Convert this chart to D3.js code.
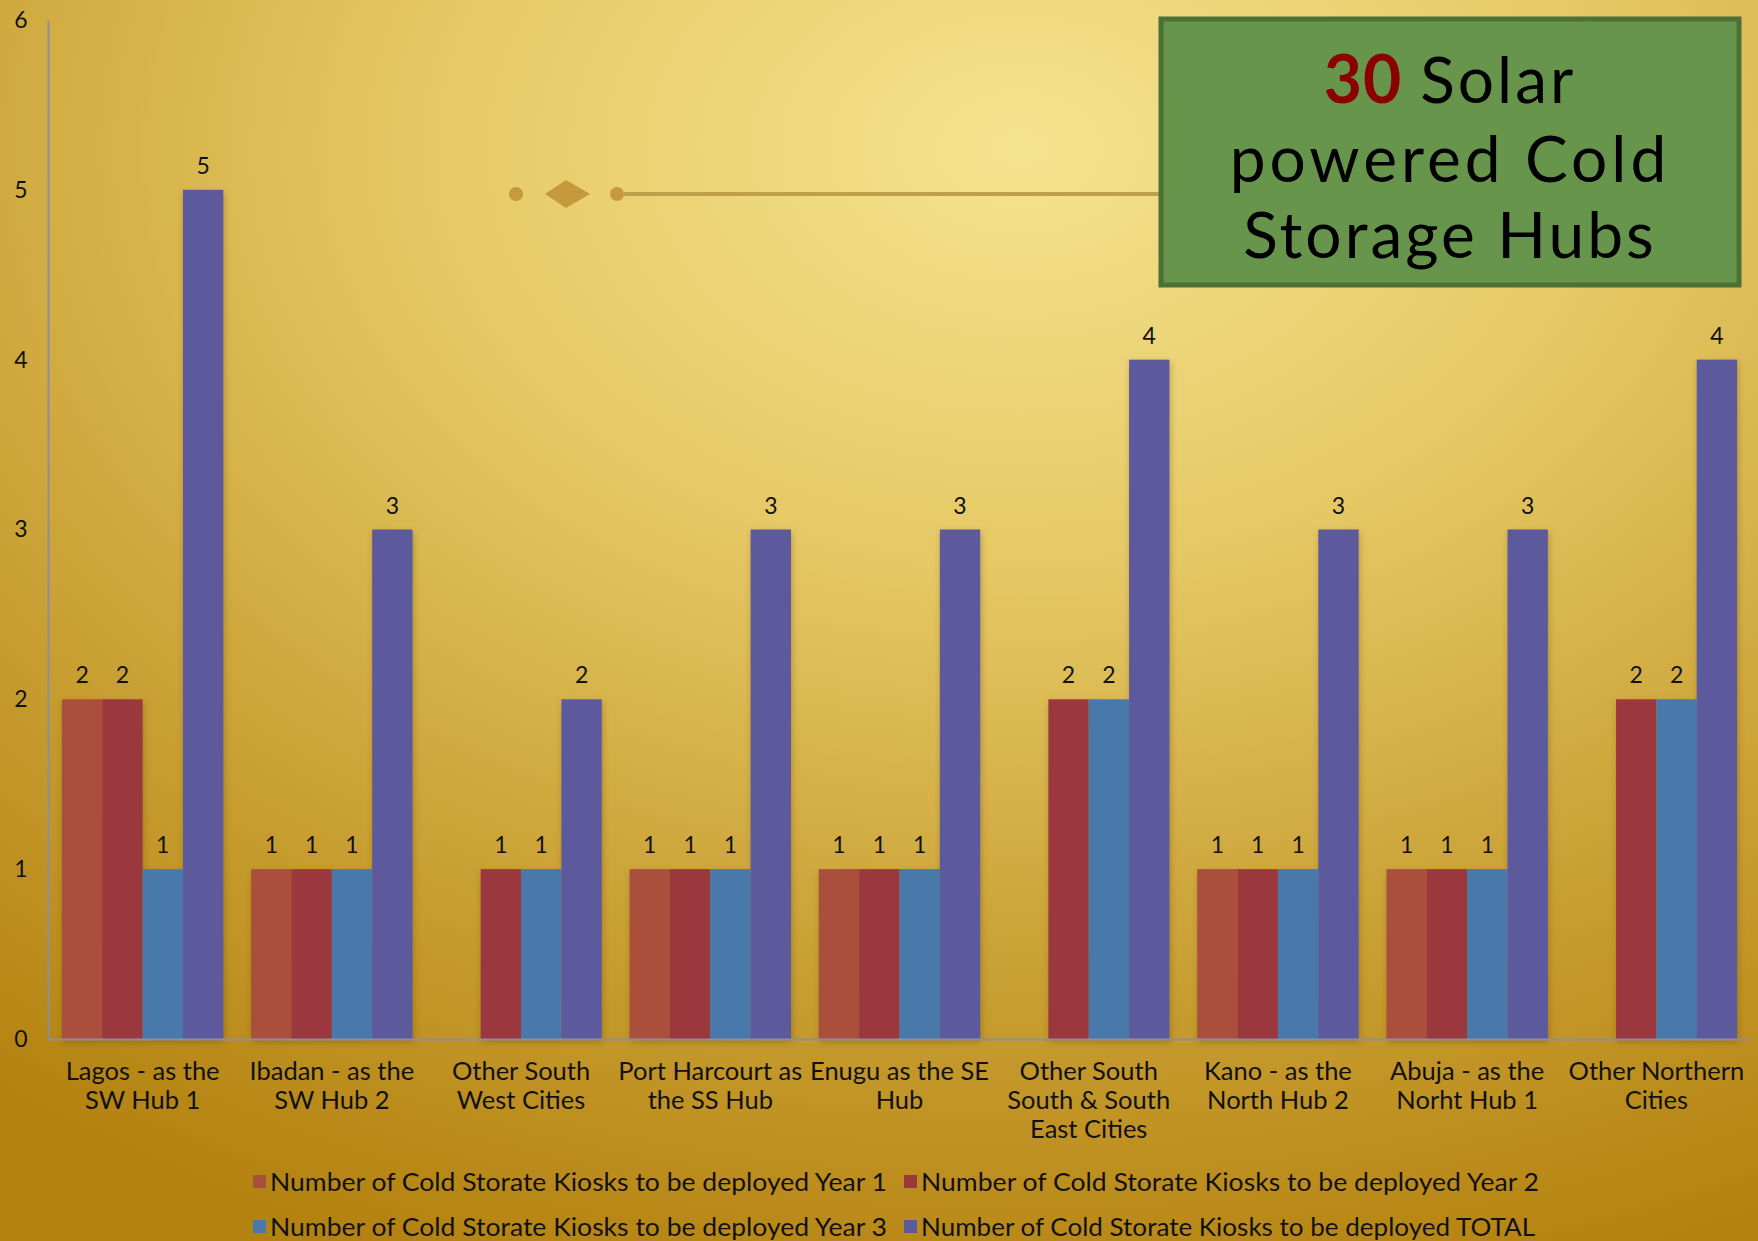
<!DOCTYPE html>
<html>
<head>
<meta charset="utf-8">
<script src="https://cdn.jsdelivr.net/npm/d3@7/dist/d3.min.js"></script>
<style>
  html, body { margin: 0; padding: 0; background: #c9a030; }
  svg { display: block; }
  text { font-family: Lato, "Noto Sans", sans-serif; }
</style>
</head>
<body>
<svg id="chart" width="1758" height="1241"></svg>
<script>
// ---- data ----
const categories = [
  "Lagos - as the\nSW Hub 1",
  "Ibadan - as the\nSW Hub 2",
  "Other South\nWest Cities",
  "Port Harcourt as\nthe SS Hub",
  "Enugu as the SE\nHub",
  "Other South\nSouth & South\nEast Cities",
  "Kano - as the\nNorth Hub 2",
  "Abuja - as the\nNorht Hub 1",
  "Other Northern\nCities"
];
const seriesNames = [
  "Number of Cold Storate Kiosks to be deployed Year 1",
  "Number of Cold Storate Kiosks to be deployed Year 2",
  "Number of Cold Storate Kiosks to be deployed Year 3",
  "Number of Cold Storate Kiosks to be deployed TOTAL"
];
const year1 = [2, 1, null, 1, 1, null, 1, 1, null];
const year2 = [2, 1, 1, 1, 1, 2, 1, 1, 2];
const year3 = [1, 1, 1, 1, 1, 2, 1, 1, 2];
const total = [5, 3, 2, 3, 3, 4, 3, 3, 4];
const yTicks = [0, 1, 2, 3, 4, 5, 6];
const colors = ["#a9503a", "#9a383d", "#4a78ab", "#5b5a9c"];
const titleNumber = "30";
const titleLines = ["Solar", "powered Cold", "Storage Hubs"];

const seriesValues = [year1, year2, year3, total];

// ---- layout ----
const W = 1758, H = 1241;
const plot = { left: 48, right: 1751, top: 20, bottom: 1039 };

const svg = d3.select("#chart");
const defs = svg.append("defs");

const bg = defs.append("radialGradient").attr("id", "bg")
  .attr("cx", "0.58").attr("cy", "0.12").attr("r", "0.95")
  .attr("fx", "0.58").attr("fy", "0.12");
bg.append("stop").attr("offset", "0").attr("stop-color", "#f4e38f");
bg.append("stop").attr("offset", "0.35").attr("stop-color", "#e6c965");
bg.append("stop").attr("offset", "0.7").attr("stop-color", "#c9a033");
bg.append("stop").attr("offset", "1").attr("stop-color", "#b48210");

const shadow = defs.append("filter").attr("id", "shadow")
  .attr("x", "-20%").attr("y", "-5%").attr("width", "140%").attr("height", "110%");
shadow.append("feDropShadow").attr("dx", 1).attr("dy", 3).attr("stdDeviation", 3)
  .attr("flood-color", "#5a3a00").attr("flood-opacity", 0.35);

svg.append("rect").attr("width", W).attr("height", H).attr("fill", "url(#bg)");

// decorative ornament
const orn = svg.append("g").attr("fill", "#c49a3c").attr("stroke", "none");
orn.append("circle").attr("cx", 516).attr("cy", 194).attr("r", 7);
orn.append("path").attr("d", "M 545 194 L 566 180 L 590 194 L 566 208 Z");
orn.append("circle").attr("cx", 617).attr("cy", 194).attr("r", 7);
orn.append("line").attr("x1", 624).attr("x2", 1165).attr("y1", 194).attr("y2", 194)
  .attr("stroke", "#bfa04a").attr("stroke-width", 4);

// scales
const x0 = d3.scaleBand().domain(categories).range([plot.left, plot.right])
  .paddingInner(0.147).paddingOuter(0.0735);
const x1 = d3.scaleBand().domain(d3.range(seriesNames.length)).range([0, x0.bandwidth()]).padding(0);
const y = d3.scaleLinear().domain([0, 6]).range([plot.bottom, plot.top]);

// bars
const gBars = svg.append("g").attr("filter", "url(#shadow)");
categories.forEach((c, i) => {
  seriesValues.forEach((vals, s) => {
    const v = vals[i];
    if (v == null) return;
    gBars.append("rect")
      .attr("x", x0(c) + x1(s))
      .attr("y", y(v))
      .attr("width", x1.bandwidth())
      .attr("height", y(0) - y(v))
      .attr("fill", colors[s]);
  });
});

// data labels
const gLab = svg.append("g");
categories.forEach((c, i) => {
  seriesValues.forEach((vals, s) => {
    const v = vals[i];
    if (v == null) return;
    gLab.append("text")
      .attr("x", x0(c) + x1(s) + x1.bandwidth() / 2)
      .attr("y", y(v) - 16)
      .attr("text-anchor", "middle")
      .attr("font-size", 23)
      .attr("fill", "#111")
      .text(v);
  });
});

// y axis
const yAxis = svg.append("g").attr("transform", `translate(${plot.left},0)`)
  .call(d3.axisLeft(y).tickValues(yTicks).tickSize(0).tickPadding(27).tickFormat(d3.format("d")));
yAxis.select(".domain").attr("stroke", "#8a90a2").attr("stroke-width", 2);
yAxis.selectAll("text").attr("font-size", 23).attr("fill", "#111").attr("text-anchor", "middle")
  .attr("font-family", "Lato, sans-serif");

// x axis
const xAxis = svg.append("g").attr("transform", `translate(0,${plot.bottom})`)
  .call(d3.axisBottom(x0).tickSize(0).tickSizeOuter(0));
xAxis.select(".domain").attr("stroke", "#8a90a2").attr("stroke-width", 2);
xAxis.selectAll(".tick text").each(function(d) {
  const t = d3.select(this);
  t.text(null).attr("y", 0).attr("dy", null)
    .attr("font-size", 25.5).attr("fill", "#111").attr("font-family", "Lato, sans-serif");
  d.split("\n").forEach((line, k) => {
    t.append("tspan").attr("x", 0).attr("y", 41 + k * 29).text(line);
  });
});

// legend
const legendItems = [
  { s: 0, x: 253, y: 1182, len: 617 }, { s: 1, x: 904, y: 1182, len: 618 },
  { s: 2, x: 253, y: 1227, len: 617 }, { s: 3, x: 904, y: 1227, len: 614 }
];
const gLeg = svg.append("g");
legendItems.forEach(it => {
  gLeg.append("rect").attr("x", it.x).attr("y", it.y - 7).attr("width", 13).attr("height", 13)
    .attr("fill", colors[it.s]);
  gLeg.append("text").attr("x", it.x + 17).attr("y", it.y + 9)
    .attr("font-size", 25).attr("fill", "#111")
    .attr("textLength", it.len).attr("lengthAdjust", "spacingAndGlyphs")
    .text(seriesNames[it.s]);
});

// title box
const box = { x: 1161, y: 19, w: 578, h: 266 };
svg.append("rect").attr("x", box.x).attr("y", box.y).attr("width", box.w).attr("height", box.h)
  .attr("fill", "#67954b").attr("stroke", "#4b7134").attr("stroke-width", 5);
const cx = box.x + box.w / 2;
const titleSize = 64;
// line 1: number + word as two separate texts placed side by side
const tNum = svg.append("text").attr("y", 103).attr("font-size", titleSize + 2)
  .attr("fill", "#8b0000").attr("font-weight", "bold").attr("letter-spacing", 1).text(titleNumber);
const tWord = svg.append("text").attr("y", 103).attr("font-size", titleSize)
  .attr("fill", "#000").attr("letter-spacing", 3).text(titleLines[0]);
const gap = 18;
const wNum = tNum.node().getComputedTextLength();
const wWord = tWord.node().getComputedTextLength();
const startX = cx - (wNum + gap + wWord) / 2;
tNum.attr("x", startX);
tWord.attr("x", startX + wNum + gap);
svg.append("text").attr("x", cx).attr("y", 182).attr("text-anchor", "middle")
  .attr("font-size", titleSize).attr("letter-spacing", 4).attr("fill", "#000").text(titleLines[1]);
svg.append("text").attr("x", cx).attr("y", 258).attr("text-anchor", "middle")
  .attr("font-size", titleSize).attr("letter-spacing", 3).attr("fill", "#000").text(titleLines[2]);
</script>
</body>
</html>
